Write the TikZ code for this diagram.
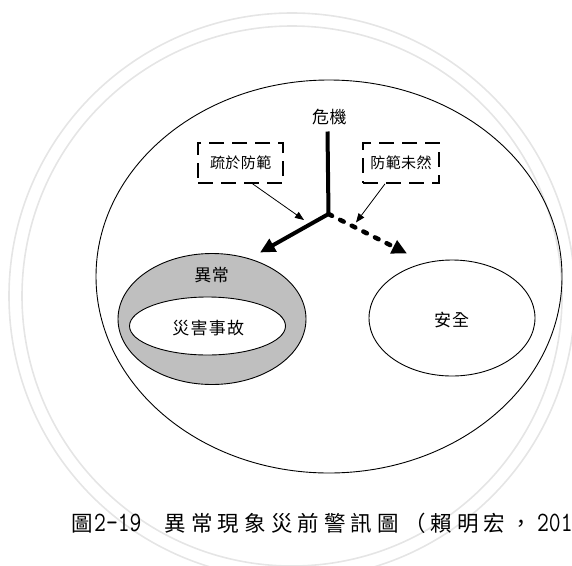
\documentclass[tikz,border=0pt]{standalone}
\usepackage{fontspec}
\usepackage{graphicx}
\usetikzlibrary{shapes.geometric,arrows.meta}
\newfontfamily\cjk{Noto Sans CJK TC}
\makeatletter
\newcommand\spreadtext[2]{\@tfor\spr@c:=#2\do{\spr@c\kern#1}\unkern}
\makeatother
\tikzset{
  oval/.style={draw, ellipse, inner sep=0pt, line width=0.9pt},
  lbl/.style={inner sep=0pt, font=\cjk\fontsize{17}{17}\selectfont},
  dbox/.style={draw, line width=1.8pt, dash pattern=on 15pt off 8pt, inner sep=0pt,
    font=\cjk\fontsize{15}{15}\selectfont},
  bigarrow/.style={line width=4pt, line join=round, -{Triangle[length=15pt,width=14pt]}},
  dasharrow/.style={line width=4.5pt, line cap=round, dash pattern=on 4pt off 9pt,
    -{Triangle[length=15pt,width=14pt]}},
  thinarrow/.style={line width=0.8pt, -{Triangle[length=9pt,width=7pt]}},
  wmring/.style={draw=black!10, circle, inner sep=0pt, line width=1.6pt},
  captext/.style={inner sep=0pt, anchor=base west, font=\cjk\fontsize{21.5}{21.5}\selectfont}
}
\newcommand\capdigits[1]{\scalebox{0.82}[1]{\ttfamily\fontsize{28}{28}\selectfont #1}}
\begin{document}
\begin{tikzpicture}[x=1pt,y=-1pt]
\useasboundingbox (0,0) rectangle (572,565);
% faint watermark rings
\node[wmring, minimum size=566pt] (wm1) at (292,296) {};
\node[wmring, minimum size=540pt] (wm2) at (292,296) {};
% ellipses
\node[oval, minimum width=466pt, minimum height=393pt] (big) at (329,276.5) {};
\node[oval, fill=black!25, minimum width=188pt, minimum height=131pt] (abn) at (212,319) {};
\node[oval, fill=white, minimum width=156pt, minimum height=58pt] (dis) at (207.5,326) {};
\node[oval, minimum width=166pt, minimum height=116pt] (safe) at (452,318) {};
% labels
\node[lbl] (abnlbl) at (211.7,275) {\spreadtext{0.5pt}{異常}};
\node[lbl] (dislbl) at (208.3,328.3) {\spreadtext{1.3pt}{災害事故}};
\node[lbl] (safelbl) at (451.7,320) {\spreadtext{1pt}{安全}};
\node[lbl] (crisis) at (329.3,116.7) {\spreadtext{0.5pt}{危機}};
% dashed boxes
\node[dbox, minimum width=85pt, minimum height=40pt] (box1) at (240.7,163)
  {\spreadtext{0.4pt}{疏於防範}};
\node[dbox, minimum width=76pt, minimum height=40pt] (box2) at (401,163)
  {\spreadtext{0.4pt}{防範未然}};
% arrows
\coordinate (top) at (327.5,131.5);
\coordinate (junc) at (328.5,214);
\coordinate (tipL) at (260,252.5);
\coordinate (tipR) at (407,253.5);
\coordinate (t1) at (304,220);
\coordinate (t2) at (356,222.5);
\draw[dasharrow] (junc) -- (tipR);
\draw[bigarrow] (top) -- (junc) -- (tipL);
\draw[thinarrow] ([xshift=12pt]box1.south) -- (t1);
\draw[thinarrow] ([xshift=-16pt]box2.south) -- (t2);
% caption
\node[captext] (cap1) at (71,531.7) {圖\kern1.5pt\capdigits{2-19}};
\node[captext] (cap2) at (164.5,531.7)
  {\spreadtext{5.1pt}{異常現象災前警訊圖（賴明宏，{\capdigits{201}}}};
\end{tikzpicture}
\end{document}
